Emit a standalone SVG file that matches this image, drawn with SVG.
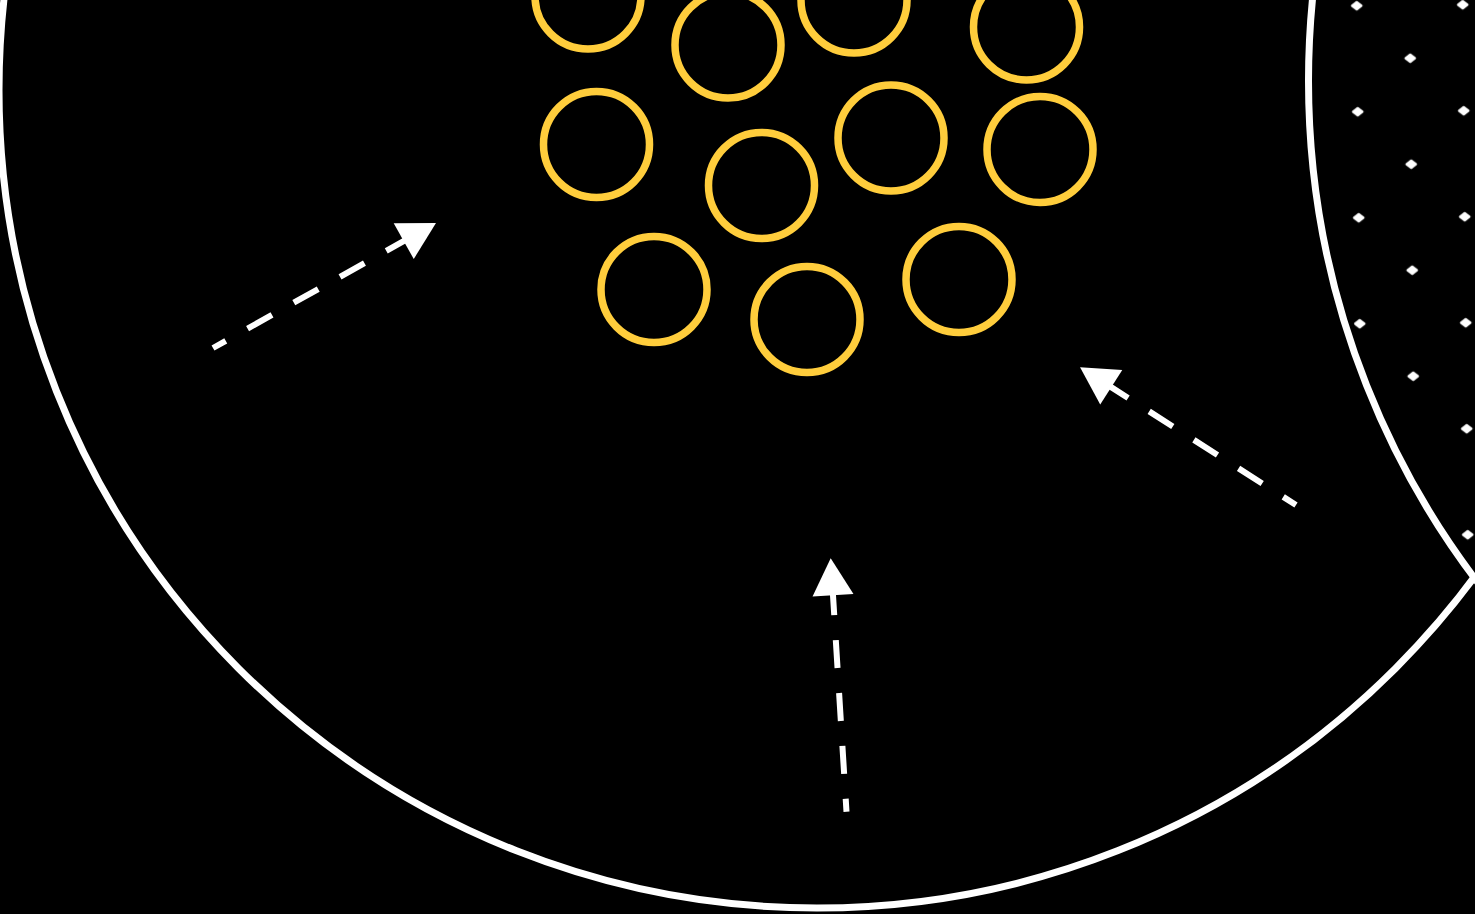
<svg xmlns="http://www.w3.org/2000/svg" width="1475" height="914" viewBox="0 0 1475 914">
  <style>
    .ring { fill: none; stroke: #FFCD3C; stroke-width: 7.5; }
    .boundary { fill: none; stroke: #FFFFFF; stroke-width: 7; }
    .flow { fill: none; stroke: #FFFFFF; stroke-width: 6; stroke-dasharray: 28 25; stroke-linecap: butt; marker-start: url(#head); }
  </style>
  <defs>
    <marker id="head" markerUnits="userSpaceOnUse" viewBox="-10 -22 42 44" markerWidth="42" markerHeight="44" refX="0" refY="0" orient="auto-start-reverse">
      <polygon points="29,0 -8,-20.5 -8,20.5" fill="#FFFFFF"/>
    </marker>
    <pattern id="dots" patternUnits="userSpaceOnUse" width="106" height="106" patternTransform="translate(1330,-20.5) rotate(-0.54)">
      <polygon points="22,26.5 26.5,23 31,26.5 26.5,30" fill="#FFFFFF" stroke="#FFFFFF" stroke-width="2.6" stroke-linejoin="round"/>
      <polygon points="75,79.5 79.5,76 84,79.5 79.5,83" fill="#FFFFFF" stroke="#FFFFFF" stroke-width="2.6" stroke-linejoin="round"/>
    </pattern>
    <clipPath id="dotclip">
      <circle cx="2136" cy="81" r="819"/>
    </clipPath>
  </defs>
  <rect x="0" y="0" width="1475" height="914" fill="#000000"/>

  <g id="outer-region">
    <circle class="boundary" cx="817" cy="90" r="818"/>
  </g>

  <g id="dotted-region">
    <circle cx="2135" cy="81" r="826.5" fill="#000000"/>
    <rect x="1300" y="0" width="175" height="600" fill="url(#dots)" clip-path="url(#dotclip)"/>
    <circle class="boundary" cx="2135" cy="81" r="826.5"/>
  </g>

  <g id="particle-1"><circle class="ring" cx="588" cy="-4" r="53"/></g>
  <g id="particle-2"><circle class="ring" cx="728" cy="45" r="53"/></g>
  <g id="particle-3"><circle class="ring" cx="854" cy="0" r="53"/></g>
  <g id="particle-4"><circle class="ring" cx="1026.5" cy="27" r="53"/></g>
  <g id="particle-5"><circle class="ring" cx="596.5" cy="144.5" r="53"/></g>
  <g id="particle-6"><circle class="ring" cx="761.5" cy="185.5" r="53"/></g>
  <g id="particle-7"><circle class="ring" cx="891" cy="138" r="53"/></g>
  <g id="particle-8"><circle class="ring" cx="1040" cy="149.5" r="53"/></g>
  <g id="particle-9"><circle class="ring" cx="654" cy="289.5" r="53"/></g>
  <g id="particle-10"><circle class="ring" cx="807" cy="319.5" r="53"/></g>
  <g id="particle-11"><circle class="ring" cx="959" cy="279.5" r="53"/></g>

  <g id="connectors">
    <path class="flow" d="M410.7,237.2 L213,348"/>
    <path class="flow" d="M1104.5,382.9 L1296,505"/>
    <path class="flow" d="M832.5,587.2 L846.5,811.7"/>
  </g>
</svg>
